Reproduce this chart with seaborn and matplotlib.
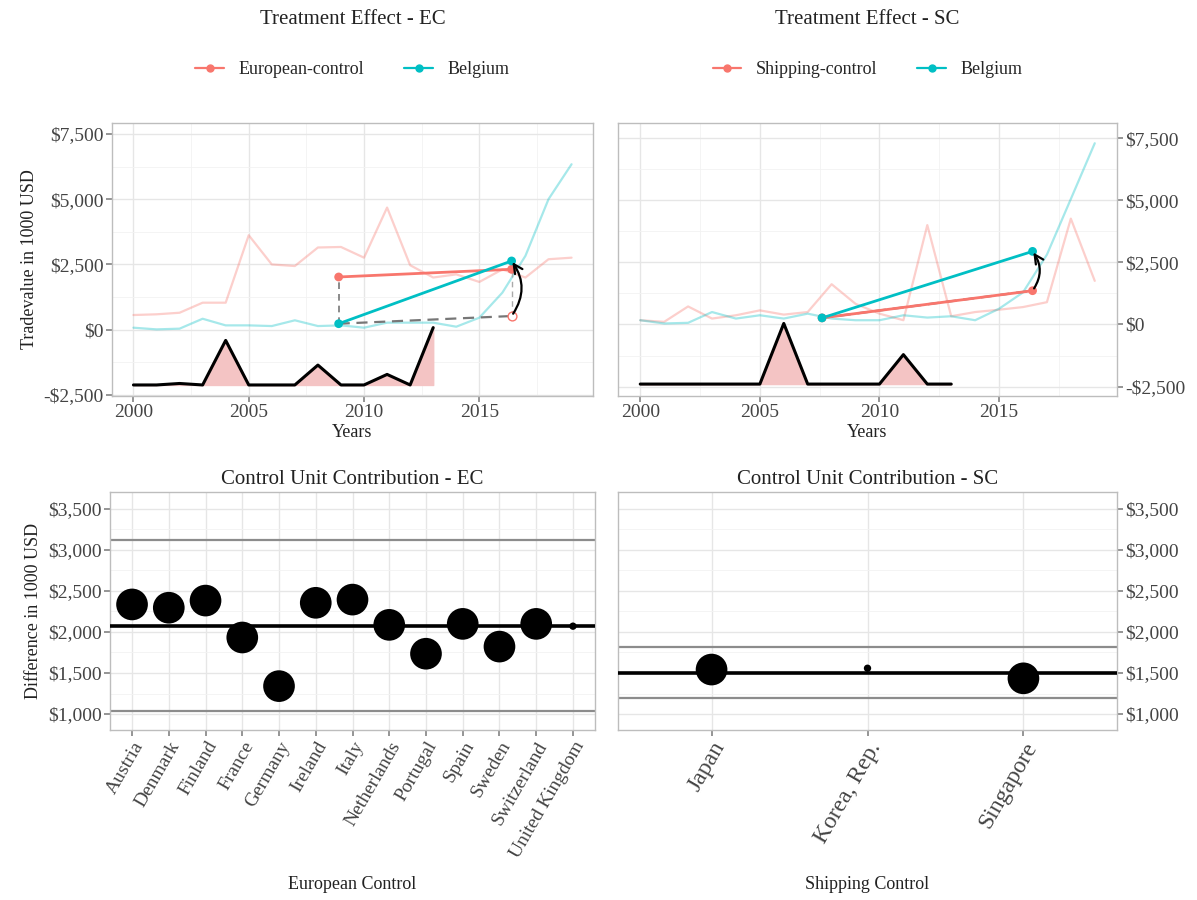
import numpy as np
import pandas as pd
import matplotlib
matplotlib.use("Agg")
import matplotlib.pyplot as plt
from matplotlib.lines import Line2D
from matplotlib.ticker import FuncFormatter, MultipleLocator
import seaborn as sns

# ---------------- data ----------------
years = list(range(2000, 2020))

ec_control = [563, 590, 650, 1035, 1035, 3620, 2500, 2440, 3150, 3170,
              2760, 4680, 2470, 2000, 2120, 1830, 2310, 2000, 2700, 2760]
ec_belgium = [77, 13, 40, 420, 166, 166, 140, 360, 140, 166,
              77, 270, 270, 270, 115, 460, 1420, 2830, 5000, 6340]

sc_control = [170, 105, 725, 237, 370, 567, 396, 500, 1620, 830,
              435, 170, 4000, 330, 500, 594, 700, 897, 4260, 1755]
sc_belgium = [170, 40, 66, 500, 237, 370, 237, 435, 237, 170,
              170, 370, 277, 330, 170, 633, 1290, 2810, 5050, 7295]

weight_years = list(range(2000, 2014))
ec_weight_base = -2117
ec_weight_curve = [-2117, -2117, -2060, -2117, -410, -2117, -2117, -2117,
                   -1355, -2117, -2117, -1713, -2117, 80]
sc_weight_base = -2400
sc_weight_curve = [-2400, -2400, -2400, -2400, -2400, -2400, 40, -2400,
                   -2400, -2400, -2400, -1214, -2400, -2400]

# pre / post summary points (year, value)
ec_pre_year, ec_post_year = 2008.9, 2016.4
ec_ctrl_pre, ec_ctrl_post = 2020, 2315
ec_bel_pre, ec_bel_post = 230, 2634
ec_cf_post = 524

sc_pre_year, sc_post_year = 2007.6, 2016.4
sc_ctrl_pre, sc_ctrl_post = 264, 1359
sc_bel_pre, sc_bel_post = 264, 2942
sc_cf_post = 1359

ec_units = ["Austria", "Denmark", "Finland", "France", "Germany", "Ireland",
            "Italy", "Netherlands", "Portugal", "Spain", "Sweden",
            "Switzerland", "United Kingdom"]
ec_diff = [2336, 2296, 2383, 1933, 1340, 2356, 2395, 2087, 1735, 2099,
           1822, 2099, 2071]
ec_weight = [1, 1, 1, 1, 1, 1, 1, 1, 1, 1, 1, 1, 0.02]
ec_mean, ec_low, ec_high = 2071, 1032, 3127

sc_units = ["Japan", "Korea, Rep.", "Singapore"]
sc_diff = [1542, 1558, 1435]
sc_weight = [1, 0.02, 1]
sc_mean, sc_low, sc_high = 1500, 1192, 1812

# ---------------- style ----------------
sns.set_theme(style="whitegrid")
plt.rcParams["font.family"] = ["Liberation Serif", "DejaVu Serif"]
plt.rcParams["axes.edgecolor"] = "#BDBDBD"
plt.rcParams["axes.linewidth"] = 1.0

RED = "#F8766D"
TEAL = "#00BFC4"
TEXT = "#222222"


def dollars(v, _pos=None):
    v = int(round(v))
    return f"-${abs(v):,}" if v < 0 else f"${v:,}"


def style_axes(ax, right=False, tick_size=14):
    ax.set_facecolor("white")
    ax.grid(True, which="major", color="#E6E6E6", linewidth=1.0)
    ax.grid(True, which="minor", color="#F2F2F2", linewidth=0.6)
    ax.tick_params(axis="both", which="major", length=4, color="#888888",
                   labelsize=tick_size, labelcolor="#444444", pad=2,
                   bottom=True, left=not right, right=right)
    ax.tick_params(axis="both", which="minor", length=0)
    ax.yaxis.set_major_formatter(FuncFormatter(dollars))
    if right:
        ax.yaxis.tick_right()
        ax.yaxis.set_label_position("right")
    for s in ax.spines.values():
        s.set_color("#BDBDBD")


fig = plt.figure(figsize=(11.97, 9.0), dpi=100)
W, H = 1197, 900


def add_axes(x0, y0, x1, y1):
    return fig.add_axes([x0 / W, 1 - y1 / H, (x1 - x0) / W, (y1 - y0) / H])


ax_tl = add_axes(112, 123, 593, 396)
ax_tr = add_axes(618, 123, 1117, 396)
ax_bl = add_axes(110, 492, 595, 730)
ax_br = add_axes(618, 492, 1117, 730)


def treatment_panel(ax, control, belgium, w_curve, w_base,
                    pre_year, post_year, c_pre, c_post, b_pre, b_post, cf_post,
                    ctrl_label, title, right, ylim, show_cf_vline):
    df = pd.DataFrame({"Year": years * 2,
                       "Value": control + belgium,
                       "Series": [ctrl_label] * len(years) + ["Belgium"] * len(years)})
    sns.lineplot(data=df, x="Year", y="Value", hue="Series",
                 palette={ctrl_label: RED, "Belgium": TEAL},
                 alpha=0.35, linewidth=1.6, legend=False, ax=ax)

    # synthetic weight profile
    ax.fill_between(weight_years, w_base, w_curve, color="#F4C4C4", zorder=2)
    wdf = pd.DataFrame({"Year": weight_years, "Value": w_curve})
    sns.lineplot(data=wdf, x="Year", y="Value", color="black",
                 linewidth=2.2, ax=ax, zorder=3)

    # guide lines for the counterfactual
    ax.plot([pre_year, pre_year], [b_pre, c_pre], ls=(0, (4, 3)),
            color="#777777", lw=1.2, zorder=4)
    ax.plot([pre_year, post_year], [b_pre, cf_post], ls=(0, (5, 3)),
            color="#777777", lw=1.6, zorder=4)
    if show_cf_vline:
        ax.plot([post_year, post_year], [cf_post, c_post], ls=(0, (4, 3)),
                color="#AAAAAA", lw=1.0, zorder=4)

    # pre/post segments
    sdf = pd.DataFrame({"Year": [pre_year, post_year] * 2,
                        "Value": [c_pre, c_post, b_pre, b_post],
                        "Series": [ctrl_label] * 2 + ["Belgium"] * 2})
    sns.lineplot(data=sdf, x="Year", y="Value", hue="Series",
                 palette={ctrl_label: RED, "Belgium": TEAL},
                 linewidth=2.0, legend=False, ax=ax, zorder=5)
    sns.scatterplot(data=sdf, x="Year", y="Value", hue="Series",
                    palette={ctrl_label: RED, "Belgium": TEAL},
                    s=40, linewidth=0, legend=False, ax=ax, zorder=6)
    if show_cf_vline:
        ax.scatter([post_year], [cf_post], s=40, facecolor="white",
                   edgecolor=RED, linewidth=1.0, zorder=6)

    ax.annotate("", xy=(post_year, b_post), xytext=(post_year, cf_post),
                arrowprops=dict(arrowstyle="->", color="black", lw=1.6,
                                connectionstyle="arc3,rad=0.35",
                                shrinkA=2, shrinkB=1, mutation_scale=16),
                zorder=7)

    ax.set_xlim(1999.07, 2019.93)
    ax.set_ylim(*ylim)
    ax.set_xticks([2000, 2005, 2010, 2015])
    ax.xaxis.set_minor_locator(MultipleLocator(2.5))
    ax.set_yticks([-2500, 0, 2500, 5000, 7500])
    ax.yaxis.set_minor_locator(MultipleLocator(1250))
    style_axes(ax, right=right, tick_size=14)
    ax.set_xlabel("Years", fontsize=13, color=TEXT, labelpad=2)
    if right:
        ax.set_ylabel("")
    else:
        ax.set_ylabel("Tradevalue in 1000 USD", fontsize=13, color=TEXT,
                      labelpad=4)

    ax.text(0.5, 1 + 103 / 273, title, transform=ax.transAxes,
            ha="center", va="center", fontsize=15, color=TEXT)
    handles = [Line2D([0], [0], color=RED, lw=1.6, marker="o", markersize=5),
               Line2D([0], [0], color=TEAL, lw=1.6, marker="o", markersize=5)]
    ax.legend(handles, [ctrl_label, "Belgium"], loc="center",
              bbox_to_anchor=(0.5, 1 + 53 / 273), ncol=2, frameon=False,
              fontsize=13, handlelength=1.6, columnspacing=2.2,
              handletextpad=0.8)


treatment_panel(ax_tl, ec_control, ec_belgium, ec_weight_curve, ec_weight_base,
                ec_pre_year, ec_post_year, ec_ctrl_pre, ec_ctrl_post,
                ec_bel_pre, ec_bel_post, ec_cf_post,
                "European-control", "Treatment Effect - EC", False,
                (-2540, 7920), True)
treatment_panel(ax_tr, sc_control, sc_belgium, sc_weight_curve, sc_weight_base,
                sc_pre_year, sc_post_year, sc_ctrl_pre, sc_ctrl_post,
                sc_bel_pre, sc_bel_post, sc_cf_post,
                "Shipping-control", "Treatment Effect - SC", True,
                (-2880, 8110), False)


def contribution_panel(ax, units, diffs, weights, mean, low, high,
                       title, xlabel, right, label_size):
    df = pd.DataFrame({"Unit": units, "Diff": diffs, "Weight": weights})
    ax.axhline(high, color="#8C8C8C", lw=1.6, zorder=2)
    ax.axhline(low, color="#8C8C8C", lw=1.6, zorder=2)
    ax.axhline(mean, color="black", lw=2.6, zorder=3)
    sns.scatterplot(data=df, x="Unit", y="Diff", size="Weight",
                    sizes=(28, 520), size_norm=(0.02, 1), color="black",
                    linewidth=0, legend=False, ax=ax, zorder=4)
    ax.set_xlim(-0.6, len(units) - 0.4)
    ax.set_ylim(805, 3707)
    ax.set_yticks([1000, 1500, 2000, 2500, 3000, 3500])
    ax.yaxis.set_minor_locator(MultipleLocator(250))
    style_axes(ax, right=right, tick_size=14)
    ax.set_xticks(range(len(units)))
    ax.set_xticklabels(units, rotation=60, ha="right", rotation_mode="anchor",
                       fontsize=label_size, color="#444444")
    ax.set_title(title, fontsize=15, color=TEXT, pad=6)
    ax.set_xlabel(xlabel, fontsize=13, color=TEXT)
    ax.xaxis.set_label_coords(0.5, -(876 - 730) / 238)
    if right:
        ax.set_ylabel("")
    else:
        ax.set_ylabel("Difference in 1000 USD", fontsize=13, color=TEXT,
                      labelpad=4)


contribution_panel(ax_bl, ec_units, ec_diff, ec_weight, ec_mean, ec_low,
                   ec_high, "Control Unit Contribution - EC", "European Control",
                   False, 14)
contribution_panel(ax_br, sc_units, sc_diff, sc_weight, sc_mean, sc_low,
                   sc_high, "Control Unit Contribution - SC", "Shipping Control",
                   True, 17)

fig.savefig("out.png", dpi=100, facecolor="white")
